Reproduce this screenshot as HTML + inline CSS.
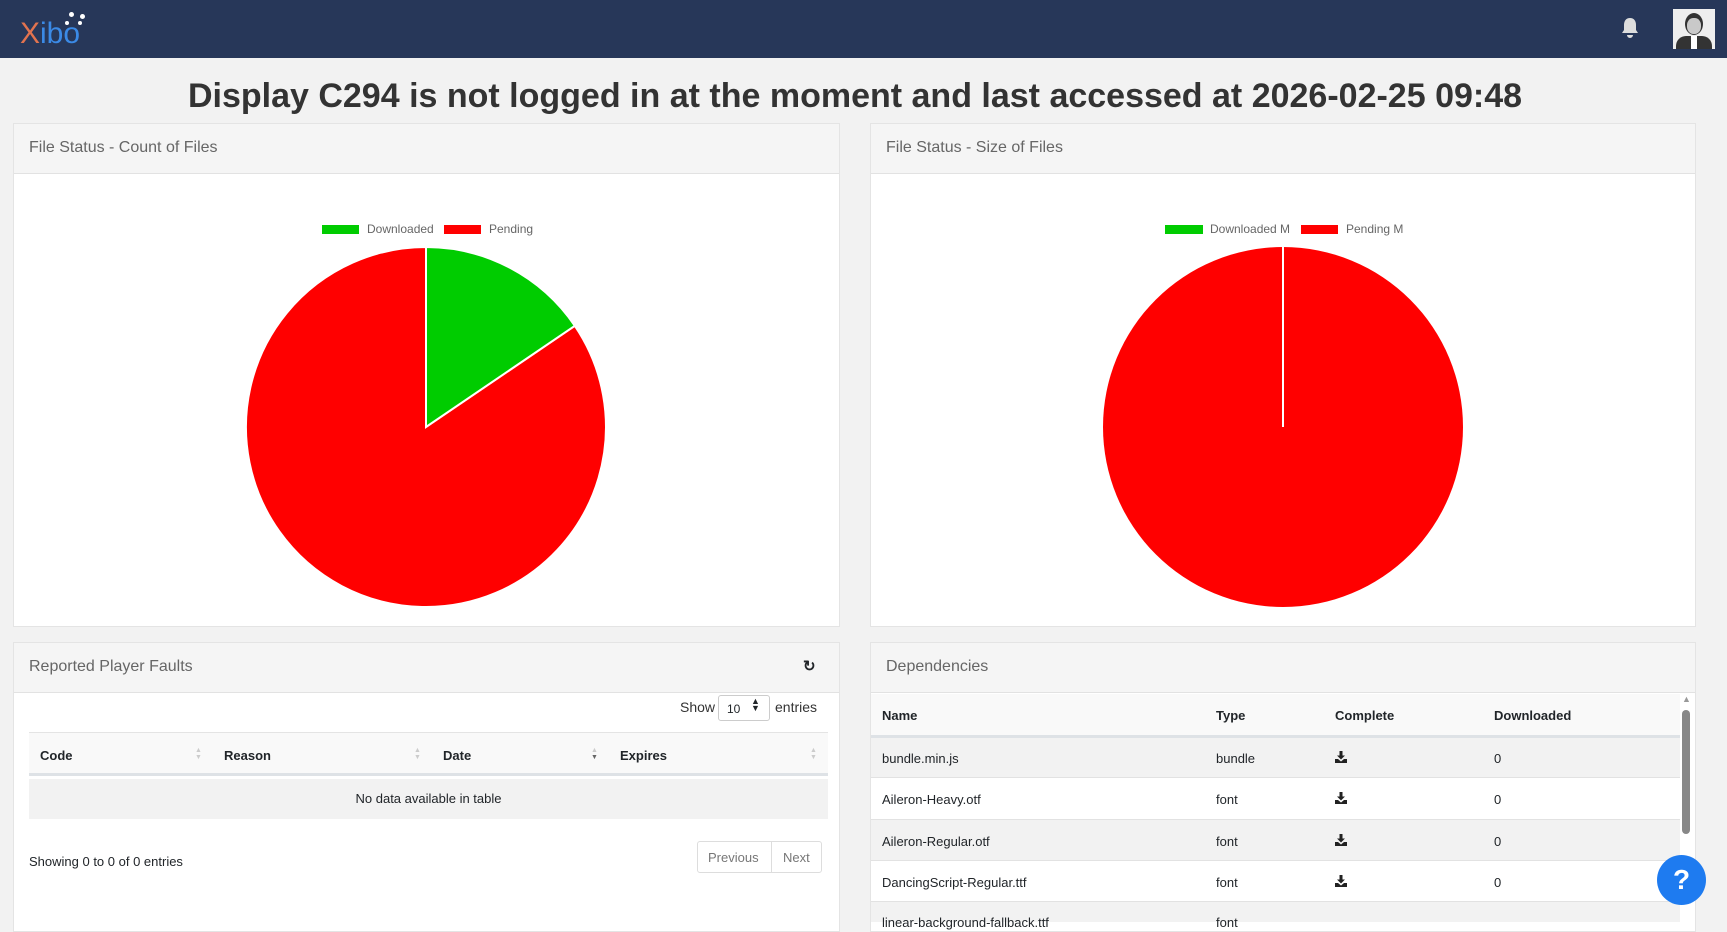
<!DOCTYPE html>
<html><head><meta charset="utf-8"><style>
*{box-sizing:border-box;margin:0;padding:0}
body{width:1727px;height:922px;overflow:hidden;background:#f2f2f2;font-family:"Liberation Sans",sans-serif;color:#212529;position:relative}
.abs{position:absolute}
.nav{left:0;top:0;width:1727px;height:58px;background:#273759}
.panel{position:absolute;background:#fff;border:1px solid #e4e4e4}
.ph{position:absolute;left:0;top:0;right:0;height:50px;background:#f5f5f5;border-bottom:1px solid #e2e2e2;font-size:16px;color:#666;padding:15px 0 0 15px}
.t{position:absolute;font-size:13px;white-space:nowrap}
.b{font-weight:bold}
.sort{position:absolute;font-size:7px;color:#ccc;line-height:7px}
.dl{position:absolute;width:12px;height:12px}
</style></head><body>
<div class="abs nav"></div>
<div class="abs" style="left:20px;top:19px;font-size:30px;line-height:30px"><span style="color:#e2734f">X</span><span style="color:#3b8ae6">ibo</span></div>
<div class="abs" style="left:69px;top:12px;width:5px;height:5px;border-radius:50%;background:#fff"></div>
<div class="abs" style="left:80px;top:14px;width:5px;height:5px;border-radius:50%;background:#fff"></div>
<div class="abs" style="left:65px;top:21px;width:4px;height:4px;border-radius:50%;background:#fff"></div>
<div class="abs" style="left:78px;top:21px;width:4px;height:4px;border-radius:50%;background:#fff"></div>
<svg class="abs" style="left:1620px;top:17px" width="20" height="22" viewBox="0 0 20 22"><path d="M10 1c-4 0-6 3-6 7v5l-2 3h16l-2-3V8c0-4-2-7-6-7z M7 18a3 3 0 0 0 6 0z" fill="#ddd"/></svg>
<div class="abs" style="left:1673px;top:9px;width:42px;height:40px;background:#eee;overflow:hidden">
<div class="abs" style="left:12px;top:4px;width:18px;height:22px;border-radius:50%;background:#333"></div>
<div class="abs" style="left:14px;top:9px;width:14px;height:16px;border-radius:45%;background:#c9c9c9"></div>
<div class="abs" style="left:3px;top:27px;width:36px;height:20px;border-radius:10px 10px 0 0;background:#333"></div>
<div class="abs" style="left:18px;top:27px;width:6px;height:13px;background:#fff"></div></div>
<div class="abs b" style="left:0;width:1710px;top:77px;text-align:center;font-size:34px;color:#333">Display C294 is not logged in at the moment and last accessed at 2026-02-25 09:48</div>

<div class="panel" style="left:13px;top:123px;width:827px;height:504px"><div class="ph">File Status - Count of Files</div></div>
<div class="panel" style="left:870px;top:123px;width:826px;height:504px"><div class="ph">File Status - Size of Files</div></div>

<div class="abs" style="left:322px;top:225px;width:37px;height:9px;background:#00cc00"></div>
<div class="t" style="left:367px;top:222px;font-size:12px;color:#666">Downloaded</div>
<div class="abs" style="left:444px;top:225px;width:37px;height:9px;background:#ff0000"></div>
<div class="t" style="left:489px;top:222px;font-size:12px;color:#666">Pending</div>
<svg class="abs" style="left:0;top:0" width="1727" height="922">
<path d="M426 427 L426 247 A180 180 0 1 0 574.8 325.8 Z" fill="#ff0000" stroke="#fff" stroke-width="2"/>
<path d="M426 427 L426 247 A180 180 0 0 1 574.8 325.8 Z" fill="#00cc00" stroke="#fff" stroke-width="2"/>
<circle cx="1283" cy="427" r="180" fill="#ff0000"/>
<line x1="1283" y1="427" x2="1283" y2="247" stroke="#fff" stroke-width="2"/>
</svg>
<div class="abs" style="left:1165px;top:225px;width:38px;height:9px;background:#00cc00"></div>
<div class="t" style="left:1210px;top:222px;font-size:12px;color:#666">Downloaded M</div>
<div class="abs" style="left:1301px;top:225px;width:37px;height:9px;background:#ff0000"></div>
<div class="t" style="left:1346px;top:222px;font-size:12px;color:#666">Pending M</div>

<div class="panel" style="left:13px;top:642px;width:827px;height:290px"><div class="ph">Reported Player Faults</div></div>
<div class="t b" style="left:803px;top:657px;font-size:15px">&#x21bb;</div>
<div class="t" style="left:680px;top:699px;color:#333;font-size:14px">Show</div>
<div class="abs" style="left:718px;top:695px;width:52px;height:26px;border:1px solid #ccc;border-radius:3px;background:#fff"></div>
<div class="t" style="left:727px;top:702px;font-size:12px">10</div>
<div class="t" style="left:751px;top:698px;font-size:9px;line-height:7px">▲<br>▼</div>
<div class="t" style="left:775px;top:699px;color:#333;font-size:14px">entries</div>
<div class="abs" style="left:29px;top:732px;width:799px;height:44px;background:#f9f9f9;border-top:1px solid #e4e4e4;border-bottom:3px solid #dee2e6"></div>
<div class="t b" style="left:40px;top:748px">Code</div>
<div class="t b" style="left:224px;top:748px">Reason</div>
<div class="t b" style="left:443px;top:748px">Date</div>
<div class="t b" style="left:620px;top:748px">Expires</div>
<div class="sort" style="left:195px;top:747px">▲<br>▼</div>
<div class="sort" style="left:414px;top:747px">▲<br>▼</div>
<div class="sort" style="left:591px;top:747px">▲<br><span style="color:#666">▼</span></div>
<div class="sort" style="left:810px;top:747px">▲<br>▼</div>
<div class="abs" style="left:29px;top:779px;width:799px;height:40px;background:#f2f2f2"></div>
<div class="t" style="left:29px;width:799px;text-align:center;top:791px">No data available in table</div>
<div class="t" style="left:29px;top:854px">Showing 0 to 0 of 0 entries</div>
<div class="abs" style="left:697px;top:841px;width:125px;height:32px;border:1px solid #ddd;border-radius:3px;background:#fff"></div>
<div class="abs" style="left:771px;top:841px;width:1px;height:32px;background:#ddd"></div>
<div class="t" style="left:708px;top:850px;color:#777">Previous</div>
<div class="t" style="left:783px;top:850px;color:#777">Next</div>

<div class="panel" style="left:870px;top:642px;width:826px;height:290px"><div class="ph">Dependencies</div></div>
<div class="abs" style="left:871px;top:694px;width:809px;height:44px;background:#f9f9f9;border-bottom:3px solid #dee2e6"></div>
<div class="t b" style="left:882px;top:708px">Name</div>
<div class="t b" style="left:1216px;top:708px">Type</div>
<div class="t b" style="left:1335px;top:708px">Complete</div>
<div class="t b" style="left:1494px;top:708px">Downloaded</div>
<div class="abs" style="left:871px;top:738px;width:809px;height:40px;background:#f2f2f2;border-bottom:1px solid #e2e2e2"></div>
<div class="abs" style="left:871px;top:779px;width:809px;height:41px;background:#fff;border-bottom:1px solid #e2e2e2"></div>
<div class="abs" style="left:871px;top:820px;width:809px;height:41px;background:#f2f2f2;border-bottom:1px solid #e2e2e2"></div>
<div class="abs" style="left:871px;top:861px;width:809px;height:41px;background:#fff;border-bottom:1px solid #e2e2e2"></div>
<div class="abs" style="left:871px;top:902px;width:809px;height:20px;background:#f2f2f2"></div>
<svg width="0" height="0" style="position:absolute"><symbol id="d" viewBox="0 0 12 12"><path d="M4.5 0h3v4.5h2.5L6 8.5 2 4.5h2.5z M0 8h3l3 2.5L9 8h3v4H0z" fill="#222"/></symbol></svg>
<div class="t" style="left:882px;top:751px">bundle.min.js</div><div class="t" style="left:1216px;top:751px">bundle</div><svg class="dl" style="left:1335px;top:751px"><use href="#d"/></svg><div class="t" style="left:1494px;top:751px">0</div>
<div class="t" style="left:882px;top:792px">Aileron-Heavy.otf</div><div class="t" style="left:1216px;top:792px">font</div><svg class="dl" style="left:1335px;top:792px"><use href="#d"/></svg><div class="t" style="left:1494px;top:792px">0</div>
<div class="t" style="left:882px;top:834px">Aileron-Regular.otf</div><div class="t" style="left:1216px;top:834px">font</div><svg class="dl" style="left:1335px;top:834px"><use href="#d"/></svg><div class="t" style="left:1494px;top:834px">0</div>
<div class="t" style="left:882px;top:875px">DancingScript-Regular.ttf</div><div class="t" style="left:1216px;top:875px">font</div><svg class="dl" style="left:1335px;top:875px"><use href="#d"/></svg><div class="t" style="left:1494px;top:875px">0</div>
<div class="t" style="left:882px;top:915px">linear-background-fallback.ttf</div><div class="t" style="left:1216px;top:915px">font</div>
<div class="abs" style="left:1680px;top:694px;width:12px;height:228px;background:#fff"></div>
<div class="t" style="left:1682px;top:694px;font-size:9px;color:#999">▲</div>
<div class="abs" style="left:1682px;top:710px;width:8px;height:124px;border-radius:4px;background:#888"></div>
<div class="abs" style="left:1657px;top:855px;width:49px;height:50px;border-radius:50%;background:#1e7bf0;color:#fff;font-weight:bold;font-size:28px;text-align:center;line-height:50px">?</div>
</body></html>
